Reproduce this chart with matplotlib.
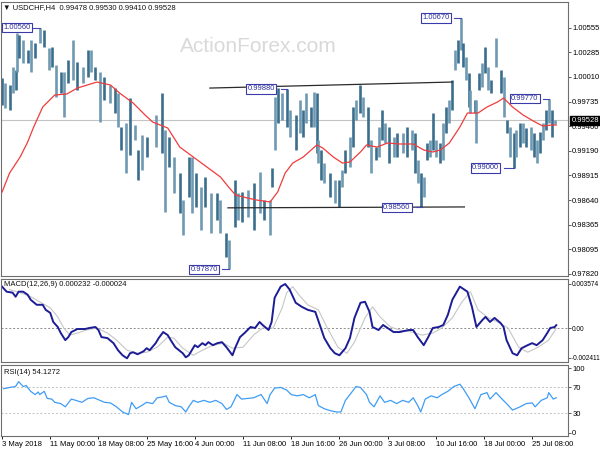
import matplotlib.pyplot as plt
import numpy as np

plt.rcParams['font.family'] = ['Liberation Sans', 'DejaVu Sans']

# ---- price bars (H4 bar number, high, low) ----
bar_idx = [0, 2, 5, 7, 9, 10, 11, 14, 17, 19, 22, 25, 28, 31, 33, 36, 39, 41, 44, 47,
           50, 54, 57, 59, 62, 65, 68, 72, 75, 77, 79, 82, 85, 88, 90, 93, 96, 102, 106, 108,
           111, 114, 118, 120, 124, 126, 129, 132, 135, 139, 143, 145, 149, 151, 155, 157, 159, 163, 167, 171,
           174, 178, 179, 181, 183, 186, 189, 191, 195, 198, 200, 202, 205, 207, 209, 210, 212, 214, 218, 221,
           224, 226, 228, 231, 233, 235, 238, 240, 243, 245, 248, 250, 252, 254, 257, 260, 262, 266, 269, 272,
           274, 276, 278, 280, 282, 284, 286, 288, 291, 293, 295, 297, 299, 301, 303, 305, 306, 308, 310, 311,
           314, 315, 317, 319, 321, 323, 325, 328, 331, 333, 335, 337, 340, 341, 344, 346, 348, 351, 353, 355,
           357, 359, 361, 363, 365, 367]
bar_high = [0.99999, 0.99943, 0.99921, 1.00121, 1.00088, 1.00499, 1.00477, 1.00421, 1.00310, 1.00421,
            1.00388, 1.00560, 1.00532, 1.00332, 1.00343, 1.00143, 1.00065, 1.00065, 1.00199, 1.00421,
            1.00177, 1.00121, 1.00310, 1.00310, 1.00121, 1.00065, 1.00010, 0.99921, 0.99887, 0.99832,
            0.99454, 0.99498, 0.99776, 0.99476, 0.99198, 0.99365, 0.99343, 0.99587, 0.99832, 0.99420,
            0.99343, 0.99120, 0.98942, 0.98642, 0.99120, 0.99120, 0.98942, 0.98787, 0.98898, 0.98720,
            0.98720, 0.98642, 0.98275, 0.98197, 0.98864, 0.98720, 0.98731, 0.98753, 0.98831, 0.98953,
            0.98642, 0.98642, 0.98998, 0.99787, 0.99887, 0.99832, 0.99880, 0.99643, 0.99587, 0.99754,
            0.99643, 0.99832, 0.99676, 0.99843, 0.99832, 0.99309, 0.99198, 0.99053, 0.98942, 0.98864,
            0.98864, 0.98976, 0.99198, 0.99343, 0.99676, 0.99754, 0.99921, 0.99787, 0.99676, 0.99309,
            0.99231, 0.99454, 0.99643, 0.99498, 0.99454, 0.99343, 0.99387, 0.99387, 0.99454, 0.99420,
            0.99387, 0.99087, 0.98942, 0.98898, 0.99276, 0.99309, 0.99609, 0.99309, 0.99276, 0.99498,
            0.99676, 0.99754, 0.99976, 1.00310, 1.00421, 1.00670, 1.00388, 1.00232, 1.00054, 0.99865,
            0.99754, 0.99754, 1.00054, 1.00165, 1.00343, 1.00121, 0.99976, 1.00443, 1.00088, 1.00010,
            0.99532, 0.99454, 0.99387, 0.99420, 0.99498, 0.99498, 0.99443, 0.99454, 0.99387, 0.99309,
            0.99398, 0.99498, 0.99643, 0.99770, 0.99643, 0.99532]
bar_low = [0.99698, 0.99665, 0.99643, 0.99832, 0.99865, 1.00065, 1.00221, 1.00165, 1.00165, 1.00065,
           1.00221, 1.00388, 1.00343, 1.00088, 1.00121, 0.99787, 0.99832, 0.99565, 0.99943, 0.99976,
           0.99865, 0.99943, 1.00010, 1.00065, 0.99976, 0.99509, 0.99754, 0.99721, 0.99609, 0.99454,
           0.99198, 0.98942, 0.99142, 0.99309, 0.98864, 0.98976, 0.99120, 0.99231, 0.99165, 0.98509,
           0.99009, 0.98720, 0.98497, 0.98253, 0.98675, 0.98497, 0.98564, 0.98308, 0.98564, 0.98275,
           0.98420, 0.98275, 0.98008, 0.97870, 0.98342, 0.98420, 0.98397, 0.98453, 0.98308, 0.98497,
           0.98420, 0.98253, 0.98787, 0.99198, 0.99498, 0.99532, 0.99454, 0.99343, 0.99198, 0.99387,
           0.99343, 0.99498, 0.99454, 0.99454, 0.99165, 0.99053, 0.98864, 0.98831, 0.98675, 0.98609,
           0.98560, 0.98787, 0.98942, 0.99009, 0.99231, 0.99532, 0.99609, 0.99565, 0.99231, 0.98942,
           0.99087, 0.99120, 0.99309, 0.99276, 0.99053, 0.99120, 0.99120, 0.99165, 0.99120, 0.99198,
           0.98942, 0.98831, 0.98560, 0.98675, 0.99087, 0.99120, 0.99198, 0.99120, 0.99053, 0.99087,
           0.99387, 0.99498, 0.99643, 1.00088, 1.00165, 1.00310, 1.00121, 0.99976, 0.99676, 0.99609,
           0.99609, 0.99276, 0.99865, 0.99899, 1.00054, 0.99865, 0.99832, 1.00121, 0.99832, 0.99565,
           0.99387, 0.99120, 0.99000, 0.99120, 0.99231, 0.99276, 0.99231, 0.99198, 0.99120, 0.99053,
           0.99165, 0.99309, 0.99420, 0.99498, 0.99343, 0.99487]
last_close = 0.99528

# ---- red moving average ----
ma_idx = [0, 5, 12, 17, 21, 27, 35, 43, 50, 63, 72, 78, 87, 95, 100, 110, 118, 127, 136, 145,
          151, 155, 163, 169, 178, 183, 188, 193, 200, 209, 213, 220, 226, 231, 238, 242, 249, 256, 264, 273,
          280, 286, 291, 297, 304, 309, 316, 322, 329, 333, 339, 346, 354, 359, 365, 368]
ma_val = [0.98731, 0.98942, 0.99120, 0.99287, 0.99454, 0.99676, 0.99810, 0.99821, 0.99887, 0.99954,
          0.99921, 0.99832, 0.99721, 0.99587, 0.99509, 0.99443, 0.99231, 0.99120, 0.99009, 0.98898,
          0.98775, 0.98698, 0.98664, 0.98642, 0.98620, 0.98731, 0.98942, 0.99053, 0.99120, 0.99254,
          0.99220, 0.99120, 0.99053, 0.99065, 0.99176, 0.99254, 0.99231, 0.99276, 0.99265, 0.99265,
          0.99198, 0.99176, 0.99198, 0.99276, 0.99454, 0.99609, 0.99609, 0.99676, 0.99732, 0.99776,
          0.99676, 0.99587, 0.99509, 0.99465, 0.99476, 0.99476]

# ---- drawn trendlines ----
upper_x = [138, 299]
upper_y = [0.99887, 0.99954]
lower_x = [150, 307]
lower_y = [0.98555, 0.98565]

# ---- MACD ----
macd_idx = [0, 3, 7, 9, 11, 14, 17, 19, 23, 27, 29, 32, 34, 37, 39, 42, 44, 46, 50, 52,
            55, 58, 62, 64, 66, 70, 74, 77, 80, 83, 85, 87, 90, 94, 96, 98, 102, 104, 107, 110,
            112, 115, 120, 122, 124, 126, 128, 130, 133, 135, 137, 140, 143, 146, 149, 153, 155, 158, 161, 165,
            168, 171, 173, 177, 179, 181, 185, 188, 191, 195, 199, 203, 208, 211, 214, 218, 221, 224, 228, 231,
            234, 238, 241, 244, 246, 250, 253, 256, 260, 264, 270, 273, 276, 280, 283, 286, 290, 293, 296, 299,
            304, 309, 312, 315, 319, 321, 324, 327, 331, 333, 335, 339, 342, 345, 349, 352, 355, 359, 362, 364,
            367, 368]
macd_val = [0.003362, 0.002952, 0.002870, 0.002542, 0.002952, 0.002952, 0.002706, 0.002296, 0.001886, 0.001886,
            0.001476, 0.001230, 0.000492, 0.000082, -0.000410, -0.000984, -0.000738, -0.000328, -0.000082, -0.000082,
            -0.000082, 0.0, 0.000082, -0.000164, -0.000738, -0.000820, -0.001230, -0.001804, -0.002214, -0.002460,
            -0.002050, -0.001968, -0.002132, -0.001886, -0.001640, -0.001804, -0.001230, -0.000820, -0.000328, -0.000574,
            -0.000984, -0.001558, -0.002050, -0.002378, -0.002214, -0.001804, -0.001394, -0.001558, -0.001230, -0.001394,
            -0.001148, -0.001394, -0.001230, -0.001148, -0.001558, -0.002214, -0.001558, -0.000738, -0.000410, 0.000082,
            0.0, 0.000492, 0.000246, -0.000164, 0.000492, 0.002460, 0.003362, 0.003574, 0.003116, 0.002050,
            0.001722, 0.001476, 0.001312, 0.000246, -0.000820, -0.001640, -0.002050, -0.002214, -0.001640, -0.000820,
            0.000820, 0.002050, 0.002132, 0.001312, 0.000082, -0.000164, 0.000246, 0.0, -0.000328, -0.000328,
            -0.000164, -0.000164, -0.000738, -0.001394, -0.000738, 0.0, 0.000082, 0.000246, 0.001066, 0.002296,
            0.003362, 0.002952, 0.001722, 0.000082, 0.000656, 0.000902, 0.000492, 0.000820, 0.000410, 0.000082,
            -0.000984, -0.002050, -0.002214, -0.001640, -0.001394, -0.001230, -0.001394, -0.000984, -0.000410, 0.0,
            0.000082, 0.000232]
signal_idx = [5, 12, 19, 25, 32, 37, 41, 45, 50, 56, 63, 70, 76, 83, 90, 96, 103, 110, 114, 120,
              127, 133, 140, 147, 153, 160, 167, 173, 180, 186, 189, 193, 197, 203, 210, 216, 223, 229, 234, 241,
              246, 251, 258, 264, 272, 279, 286, 292, 299, 305, 311, 316, 323, 329, 336, 343, 349, 356, 363, 368]
signal_val = [0.003116, 0.002870, 0.002542, 0.002132, 0.001640, 0.000902, 0.0, -0.000574, -0.000410, -0.000164,
              0.0, -0.000410, -0.000984, -0.001804, -0.002050, -0.001968, -0.001558, -0.000738, -0.000820, -0.001640,
              -0.002214, -0.001804, -0.001394, -0.001230, -0.001640, -0.001558, -0.000574, 0.0, 0.0, 0.001640,
              0.002870, 0.003362, 0.002706, 0.001886, 0.001476, 0.0, -0.001558, -0.002050, -0.001148, 0.000820,
              0.001722, 0.000902, 0.000082, -0.000164, -0.000328, -0.000574, -0.000410, 0.0, 0.000820, 0.002050,
              0.002952, 0.001476, 0.000820, 0.000492, 0.0, -0.001558, -0.001968, -0.001558, -0.000984, -0.000024]

# ---- RSI(14) ----
rsi_idx = [1, 5, 9, 11, 14, 16, 19, 22, 24, 25, 28, 30, 33, 35, 39, 42, 46, 49, 53, 57,
           61, 65, 68, 72, 76, 80, 84, 86, 89, 92, 96, 100, 103, 106, 109, 111, 115, 119, 122, 124,
           127, 130, 134, 138, 142, 146, 149, 152, 156, 159, 163, 167, 172, 176, 178, 181, 185, 189, 192, 196,
           200, 204, 208, 210, 214, 218, 222, 225, 228, 232, 235, 238, 242, 244, 247, 251, 254, 258, 262, 266,
           270, 273, 276, 278, 281, 285, 289, 292, 296, 300, 304, 306, 310, 314, 318, 322, 324, 328, 332, 335,
           339, 344, 348, 352, 354, 358, 362, 363, 366, 368]
rsi_val = [68, 70, 71.5, 79, 71.5, 73, 64, 59, 63, 59, 64, 53, 52, 47, 45, 40, 52, 50, 47, 53,
           54, 50, 47, 46, 40, 32, 28, 47, 37, 41, 47, 45, 54, 55, 57, 47, 42, 40, 32, 40,
           50, 47, 50, 47, 50, 45, 36, 40, 59, 52, 53, 54, 59, 45, 59, 69, 70, 66, 59, 57,
           59, 54, 59, 42, 37, 34, 32, 32, 50, 62, 71.5, 70, 59, 47, 40, 57, 47, 50, 45, 50,
           47, 54, 42, 32, 52, 57, 54, 59, 64, 71.5, 75, 69, 54, 37, 59, 62, 52, 62, 52, 45,
           35, 40, 45, 46, 40, 50, 54, 62, 52, 54.13]

price_ticks = [1.00555, 1.00285, 1.00010, 0.99735, 0.99460, 0.99190, 0.98915, 0.98640, 0.98365, 0.98095, 0.97820]
date_ticks = [0, 32, 64, 96, 128, 160, 192, 224, 256, 288, 320, 352]
date_labels = ['3 May 2018', '11 May 00:00', '18 May 08:00', '25 May 16:00', '4 Jun 00:00', '11 Jun 08:00',
               '18 Jun 16:00', '26 Jun 00:00', '3 Jul 08:00', '10 Jul 16:00', '18 Jul 00:00', '25 Jul 08:00']

W, H = 600, 450
fig = plt.figure(figsize=(6, 4.5), dpi=100)
fig.patch.set_facecolor('white')


def px_axes(x0, y0, x1, y1):
    return fig.add_axes([x0 / W, 1 - y1 / H, (x1 - x0) / W, (y1 - y0) / H])


FS = 5.5
XL = (-0.7, 375.8)
frame = '#6e6e6e'


def style(ax, fs=FS):
    ax.set_xlim(*XL)
    ax.yaxis.tick_right()
    ax.tick_params(axis='y', labelsize=fs, length=2, pad=1.0, width=0.6, color='#444444')
    ax.tick_params(axis='x', bottom=False, labelbottom=False)
    for s in ax.spines.values():
        s.set_color(frame)
        s.set_linewidth(0.8)


# ---------------- main price panel ----------------
ax = px_axes(1, 2, 568, 276)
style(ax)
ax.set_ylim(0.97797, 1.00844)
ax.set_yticks(price_ticks)
ax.set_yticklabels(['%.5f' % t for t in price_ticks])

fig.text(180 / W, 1 - 47 / H, 'ActionForex.com', fontsize=15, color='#d9d9d9', va='center')

ax.axhline(last_close, color='#c4c4c4', lw=0.8, zorder=1)
cols = ['#3b6d8c' if i % 2 == 0 else '#7099b3' for i in range(len(bar_idx))]
ax.vlines(bar_idx, bar_low, bar_high, colors=cols, lw=1.9, zorder=2)
ax.plot(ma_idx, ma_val, color='#f03c3c', lw=0.9, zorder=3)
ax.plot(upper_x, upper_y, color='#2a2a2a', lw=0.9, zorder=4)
ax.plot(lower_x, lower_y, color='#2a2a2a', lw=0.9, zorder=4)


def price_tag(x_left, x_right, x_bar, price, txt):
    ax.plot([x_right, x_bar], [price, price], color='#4545b0', lw=0.8, zorder=5)
    ax.text(x_left, price, txt, fontsize=FS, color='#2e2ea0', va='center', ha='left', zorder=6,
            bbox=dict(boxstyle='square,pad=0.18', fc='white', ec='#3a3aa8', lw=0.8))


price_tag(0.8, 20, 25, 1.00560, '1.00560')
price_tag(125, 146, 151, 0.97870, '0.97870')
price_tag(163, 185, 189, 0.99880, '0.99880')
price_tag(253, 275, 279, 0.98560, '0.98560')
price_tag(279, 300, 305, 1.00670, '1.00670')
price_tag(338, 359, 363, 0.99770, '0.99770')
price_tag(312, 333, 340, 0.99000, '0.99000')

ax.text(1.006, last_close, '%.5f' % last_close, transform=ax.get_yaxis_transform(), fontsize=FS,
        color='white', va='center', ha='left', zorder=7, clip_on=False,
        bbox=dict(boxstyle='square,pad=0.15', fc='black', ec='black'))
fig.text(3 / W, 1 - 8 / H, '\u25bc USDCHF,H4  0.99478 0.99530 0.99410 0.99528', fontsize=FS,
         color='#111111', va='center')

# ---------------- MACD panel ----------------
ax2 = px_axes(1, 279, 568, 362)
style(ax2, fs=4.7)
ax2.set_ylim(-0.00276, 0.00398)
ax2.set_yticks([0.003574, 0.0, -0.002411])
ax2.set_yticklabels(['0.003574', '0.00', '-0.002411'])
ax2.axhline(0, color='#8c8c8c', lw=0.7, ls=(0, (2, 2)))
ax2.plot(signal_idx, signal_val, color='#c6c6c6', lw=0.8)
ax2.plot(macd_idx, macd_val, color='#1c1c96', lw=1.4)
fig.text(4 / W, 1 - 285 / H, 'MACD(12,26,9) 0.000232 -0.000024', fontsize=FS, color='#111111', va='center')

# ---------------- RSI panel ----------------
ax3 = px_axes(1, 365, 568, 436)
style(ax3)
ax3.set_ylim(-5.2, 104.8)
ax3.set_yticks([100, 70, 30, 0])
ax3.axhline(70, color='#c0c0c0', lw=0.7, ls=(0, (2, 2)))
ax3.axhline(30, color='#c0c0c0', lw=0.7, ls=(0, (2, 2)))
ax3.plot(rsi_idx, rsi_val, color='#3f9cf5', lw=0.9)
fig.text(4 / W, 1 - 372 / H, 'RSI(14) 54.1272', fontsize=FS, color='#111111', va='center')

ax3.tick_params(axis='x', bottom=True, labelbottom=True, labelsize=FS, length=2, pad=1.5, width=0.6)
ax3.set_xticks(date_ticks)
ax3.set_xticklabels(date_labels, ha='left')

fig.savefig('out.png', dpi=100, facecolor='white')
